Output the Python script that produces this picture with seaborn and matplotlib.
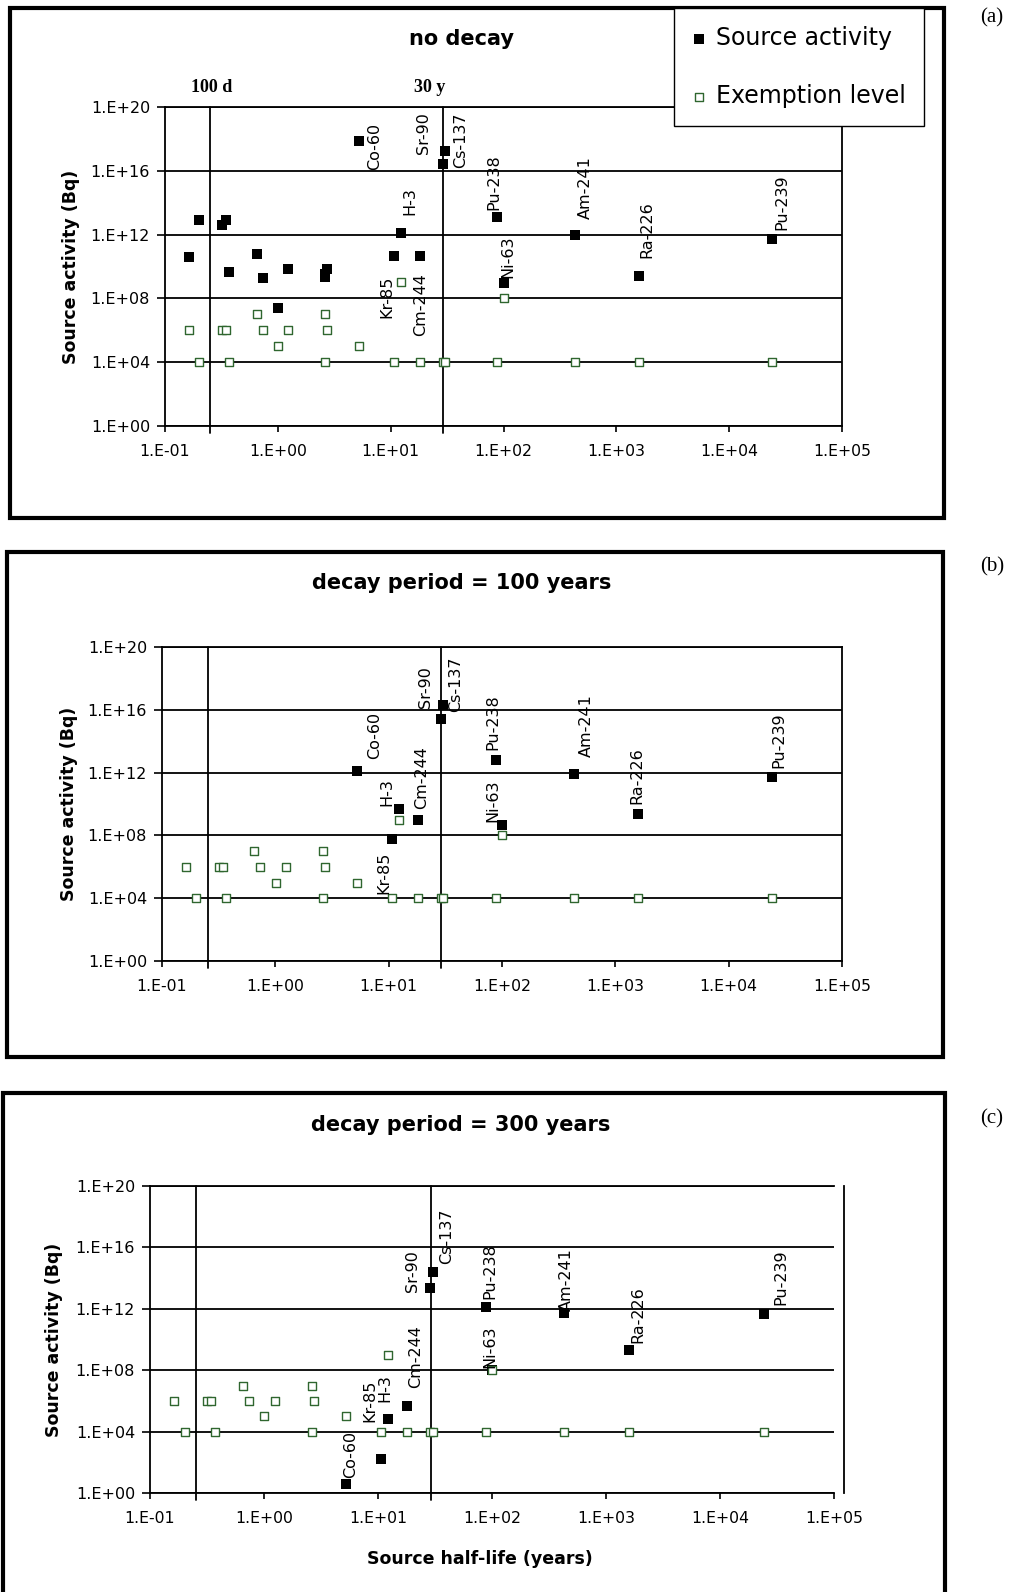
import matplotlib
matplotlib.use('Agg')
import matplotlib.pyplot as plt
import matplotlib.transforms as mtransforms
from matplotlib.patches import Rectangle
import numpy as np
import pandas as pd
import seaborn as sns

nan = np.nan

# source half-lives (years) and names, same order in every panel
half_life = [0.163, 0.201, 0.318, 0.344, 0.369, 0.65, 0.735, 1.01, 1.24, 2.62, 2.62, 2.73,
             5.27, 10.7, 12.3, 18.1, 28.8, 30.1, 87.7, 100, 432, 1600, 24100]
nuclide = ['', '', '', '', '', '', '', '', '', '', '', '',
           'Co-60', 'Kr-85', 'H-3', 'Cm-244', 'Sr-90', 'Cs-137', 'Pu-238', 'Ni-63',
           'Am-241', 'Ra-226', 'Pu-239']
exemption = [1e6, 1e4, 1e6, 1e6, 1e4, 1e7, 1e6, 1e5, 1e6, 1e7, 1e4, 1e6,
             1e5, 1e4, 1e9, 1e4, 1e4, 1e4, 1e4, 1e8, 1e4, 1e4, 1e4]

# source activity (Bq)
act_no_decay = [4.0e10, 8.1e12, 4.0e12, 8.1e12, 4.7e9, 6.0e10, 2.0e9, 2.4e7, 6.6e9, 2.3e9, 3.2e9, 6.6e9,
                7.4e17, 4.8e10, 1.3e12, 4.8e10, 2.5e16, 1.8e17, 1.3e13, 8.7e8, 1.0e12, 2.5e9, 5.4e11]
act_100y = [nan] * 12 + [1.3e12, 6.3e7, 4.6e9, 1.0e9, 2.5e15, 2.0e16, 6.3e12, 4.6e8, 7.9e11, 2.3e9, 5.0e11]
act_300y = [nan] * 12 + [4.1, 1.6e2, 6.3e4, 5.0e5, 2.4e13, 2.5e14, 1.3e12, 1.1e8, 5.6e11, 2.0e9, 4.4e11]

titles = ['no decay', 'decay period = 100 years', 'decay period = 300 years']
panel_tags = ['(a)', '(b)', '(c)']

xticks = [1e-1, 1e0, 1e1, 1e2, 1e3, 1e4, 1e5]
xtick_labels = ['1.E-01', '1.E+00', '1.E+01', '1.E+02', '1.E+03', '1.E+04', '1.E+05']
yticks = [1e0, 1e4, 1e8, 1e12, 1e16, 1e20]
ytick_labels = ['1.E+00', '1.E+04', '1.E+08', '1.E+12', '1.E+16', '1.E+20']

ref_lines = [0.253, 29.0]
ref_labels = ['100 d', '30 y']

# label offsets in pixels (dx right, dy down) from the black point
offs_a = {'Co-60': (15, 5), 'Sr-90': (-19, -31), 'Cs-137': (16, -11), 'H-3': (9, -32),
          'Kr-85': (-7, 41), 'Cm-244': (1, 49), 'Pu-238': (-3, -35), 'Ni-63': (4, -27),
          'Am-241': (10, -47), 'Ra-226': (8, -46), 'Pu-239': (10, -37)}
offs_b = {'Co-60': (17, -35), 'Sr-90': (-15, -32), 'Cs-137': (13, -21), 'H-3': (-12, -17),
          'Kr-85': (-8, 34), 'Cm-244': (4, -42), 'Pu-238': (-3, -38), 'Ni-63': (-9, -24),
          'Am-241': (12, -49), 'Ra-226': (-2, -38), 'Pu-239': (7, -37)}
offs_c = {'Co-60': (4, -29), 'Sr-90': (-18, -17), 'Cs-137': (14, -36), 'H-3': (-3, -31),
          'Kr-85': (-11, -58), 'Cm-244': (8, -49), 'Pu-238': (4, -36), 'Ni-63': (-2, -23),
          'Am-241': (2, -33), 'Ra-226': (9, -36), 'Pu-239': (17, -37)}

W, H = 1021, 1592
green = '#2f662f'

sns.set_style('white')
plt.rcParams['font.family'] = ['DejaVu Sans']
plt.rcParams['text.color'] = 'black'
plt.rcParams['axes.labelcolor'] = 'black'
plt.rcParams['xtick.color'] = 'black'
plt.rcParams['ytick.color'] = 'black'

fig = plt.figure(figsize=(W / 100, H / 100), dpi=100)

# axes boxes in pixels: left, right, top, bottom
ax_px = [(165, 842, 107, 426), (162, 842, 647, 961), (150, 834, 1186, 1493)]
box_px = [(10, 944, 8, 518), (7, 943, 552, 1057), (3, 945, 1093, 1605)]
title_px = [(461, 39), (462, 583), (461, 1125)]
tag_px = [(992, 18), (992, 567), (992, 1119)]
ylab_x = [80, 78, 63]

activities = [act_no_decay, act_100y, act_300y]
offsets = [offs_a, offs_b, offs_c]

axes = []
for i in range(3):
    l, r, t, b = ax_px[i]
    ax = fig.add_axes([l / W, 1 - b / H, (r - l) / W, (b - t) / H])
    axes.append(ax)

    x0, x1, y0, y1 = box_px[i]
    fig.add_artist(Rectangle((x0 / W, 1 - y1 / H), (x1 - x0) / W, (y1 - y0) / H,
                             transform=fig.transFigure, fill=False, lw=3, ec='black', zorder=0))

    df = pd.DataFrame({'half_life': half_life, 'activity': activities[i],
                       'exemption': exemption, 'nuclide': nuclide})

    ax.set_xscale('log')
    ax.set_yscale('log')
    sns.scatterplot(data=df, x='half_life', y='activity', marker='s', color='black',
                    s=52, linewidth=0, ax=ax, label='Source activity', zorder=3)
    sns.scatterplot(data=df, x='half_life', y='exemption', marker='s', color='white',
                    edgecolor=green, s=28, linewidth=1.0, ax=ax, label='Exemption level', zorder=4)
    if ax.get_legend():
        ax.get_legend().remove()

    ax.set_xlim(1e-1, 1e5)
    ax.set_ylim(1e0, 1e20)
    ax.set_xticks(xticks)
    ax.set_xticklabels(xtick_labels)
    ax.set_yticks(yticks)
    ax.set_yticklabels(ytick_labels)
    ax.minorticks_off()
    ax.tick_params(axis='y', direction='out', length=5.8, width=1.2, pad=5, labelsize=11.5, left=True)
    ax.tick_params(axis='x', direction='out', length=4.5, width=1.2, pad=8.5, labelsize=11.3, bottom=True)
    ax.yaxis.grid(True, color='black', lw=1.3)
    ax.xaxis.grid(False)
    ax.set_axisbelow(True)
    for sp in ax.spines.values():
        sp.set_visible(True)
        sp.set_color('black')
        sp.set_linewidth(1.3)
    if i == 2:
        ax.spines['right'].set_position(('axes', 1.015))

    trans = mtransforms.blended_transform_factory(ax.transData, ax.transAxes)
    for xr in ref_lines:
        ax.plot([xr, xr], [-0.022, 1], transform=trans, color='black', lw=1.3,
                clip_on=False, zorder=2)

    for nm, xv, yv in zip(nuclide, half_life, activities[i]):
        if nm in offsets[i]:
            dx, dy = offsets[i][nm]
            ax.annotate(nm, (xv, yv), xytext=(dx * 0.72, -dy * 0.72), textcoords='offset points',
                        rotation=90, ha='center', va='center', fontsize=11.5, zorder=5)

    ax.set_ylabel('Source activity (Bq)', fontsize=12.5, fontweight='bold')
    ax.yaxis.set_label_coords((ylab_x[i] - l) / (r - l), 0.5)
    if i == 2:
        ax.set_xlabel('Source half-life (years)', fontsize=12.5, fontweight='bold')
        ax.xaxis.set_label_coords((480 - l) / (r - l), -(1550 - b) / (b - t))
    else:
        ax.set_xlabel('')

    fig.text(title_px[i][0] / W, 1 - title_px[i][1] / H, titles[i], ha='center', va='center',
             fontsize=15, fontweight='bold')
    fig.text(tag_px[i][0] / W, 1 - tag_px[i][1] / H, panel_tags[i], ha='center', va='center',
             fontsize=15, family=['Liberation Serif'])

# "100 d" and "30 y" markers in the first panel
ax = axes[0]
trans = mtransforms.blended_transform_factory(ax.transData, ax.transAxes)
for xr, lab, dx in zip(ref_lines, ref_labels, [1, -13]):
    ax.annotate(lab, (xr, 1), xycoords=trans, xytext=(dx * 0.72, 19 * 0.72), textcoords='offset points',
                ha='center', va='center', fontsize=13, fontweight='bold', family=['Liberation Serif'])

h, lab = axes[0].get_legend_handles_labels()
leg = fig.legend(h, lab, loc='upper left', bbox_to_anchor=(674 / W, 1 - 8 / H), frameon=True,
                 fancybox=False, edgecolor='black', framealpha=1, fontsize=17, borderpad=0.75,
                 labelspacing=1.45, handlelength=0.6, handletextpad=0.45, borderaxespad=0)
leg.get_frame().set_linewidth(1.0)
leg.legend_handles[0].set_sizes([44])
leg.legend_handles[1].set_sizes([32])

fig.savefig('out.png', dpi=100, facecolor='white')
